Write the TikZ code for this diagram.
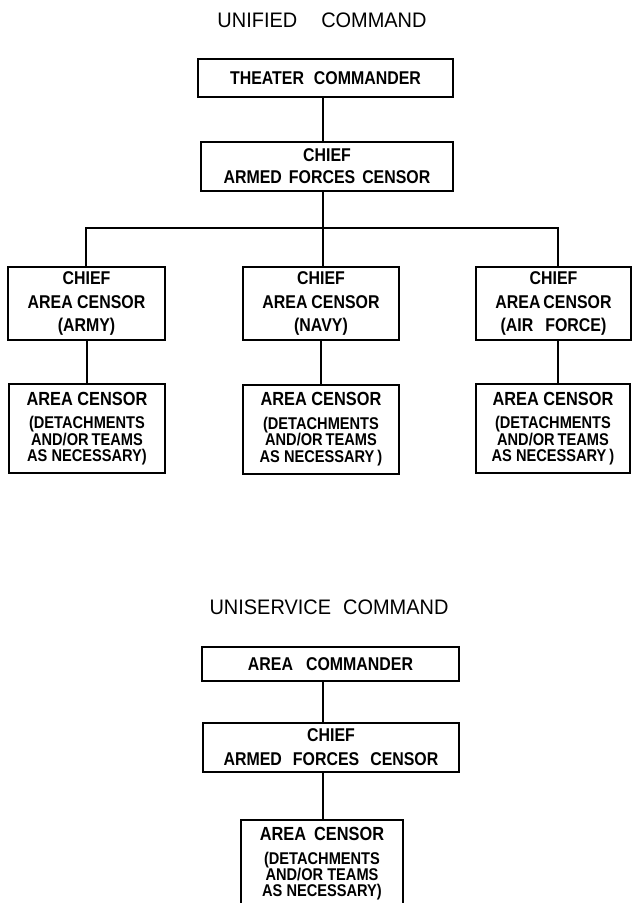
\documentclass[tikz,border=0pt]{standalone}
\usepackage{fontspec}
\setmainfont{Liberation Sans}
\newfontfamily\boxfont{Liberation Sans}[FakeStretch=0.86]
\newfontfamily\titlefont{Liberation Sans}[FakeStretch=0.95]
\tikzset{
  box/.style={draw, line width=2pt, inner sep=0pt, align=center},
  conn/.style={draw, line width=2pt},
  ttl/.style={inner sep=0pt, font=\titlefont\fontsize{21}{24}\selectfont},
  fa/.style={font=\boxfont\bfseries\fontsize{18.5}{22}\selectfont},
  fb/.style={font=\boxfont\bfseries\fontsize{18.5}{23.5}\selectfont},
  fc/.style={font=\boxfont\bfseries\fontsize{17}{16.5}\selectfont},
}
\newcommand\firstln[1]{{\fontsize{19}{19}\selectfont #1}}
\begin{document}
\begin{tikzpicture}[x=1pt,y=-1pt]
\useasboundingbox (0,0) rectangle (632,903);
\clip (0,0) rectangle (632,903);
% ---------- Unified command ----------
\node[ttl] (t1) at (322,20) {UNIFIED\hspace{24pt}COMMAND};
\node[box,fa,minimum width=255pt,minimum height=38pt] (tc) at (325.5,78) {THEATER\hspace{10pt}COMMANDER};
\node[box,fa,minimum width=252pt,minimum height=49pt] (afc) at (327,166.5) {CHIEF\\ARMED\hspace{7pt}FORCES\hspace{7pt}CENSOR};
\node[box,fb,minimum width=157pt,minimum height=73pt] (ca1) at (86.5,303.5) {CHIEF\\AREA CENSOR\\(ARMY)};
\node[box,fb,minimum width=156pt,minimum height=73pt] (ca2) at (321,303.5) {CHIEF\\AREA\hspace{4pt}CENSOR\\(NAVY)};
\node[box,fb,minimum width=155pt,minimum height=73pt] (ca3) at (553.5,303.5) {CHIEF\\AREA\hspace{3pt}CENSOR\\(AIR\hspace{12pt}FORCE)};
\node[box,fc,minimum width=156pt,minimum height=89pt] (ac1) at (87,428.5) {\firstln{AREA CENSOR}\\[7pt](DETACHMENTS\\AND/OR\hspace{3pt}TEAMS\\AS NECESSARY)};
\node[box,fc,minimum width=156pt,minimum height=89pt] (ac2) at (321,429) {\firstln{AREA CENSOR}\\[7pt](DETACHMENTS\\AND/OR\hspace{3pt}TEAMS\\AS NECESSARY\hspace{3pt})};
\node[box,fc,minimum width=154pt,minimum height=89pt] (ac3) at (553,428.5) {\firstln{AREA CENSOR}\\[7pt](DETACHMENTS\\AND/OR\hspace{3pt}TEAMS\\AS NECESSARY\hspace{3pt})};
\coordinate (j) at (323,228);
\coordinate (bl) at (86,228);
\coordinate (br) at (558,228);
\draw[conn] (tc.south -| j) -- (afc.north -| j);
\draw[conn] (afc.south -| j) -- (j);
\draw[conn,line cap=rect] (bl) -- (br);
\draw[conn] (bl) -- (bl |- ca1.north);
\draw[conn] (j) -- (j |- ca2.north);
\draw[conn] (br) -- (br |- ca3.north);
\draw[conn] (ca1.south -| ac1.north) -- (ac1.north);
\draw[conn] (ca2.south) -- (ac2.north);
\draw[conn] (ca3.south -| br) -- (ac3.north -| br);
% ---------- Uniservice command ----------
\node[ttl] (t2) at (329,607) {UNISERVICE\hspace{12pt}COMMAND};
\node[box,fa,minimum width=257pt,minimum height=34pt] (acm) at (330.5,664) {AREA\hspace{13pt}COMMANDER};
\node[box,font=\boxfont\bfseries\fontsize{18.5}{24}\selectfont,minimum width=256pt,minimum height=49pt] (afc2) at (331,747.5) {CHIEF\\ARMED\hspace{11pt}FORCES\hspace{11pt}CENSOR};
\node[box,font=\boxfont\bfseries\fontsize{17}{16}\selectfont,minimum width=162pt,minimum height=88pt] (acb) at (322,864) {\firstln{AREA\hspace{8pt}CENSOR}\\[8pt](DETACHMENTS\\AND/OR TEAMS\\AS NECESSARY)};
\coordinate (k) at (323,700);
\draw[conn] (acm.south -| k) -- (afc2.north -| k);
\draw[conn] (afc2.south -| k) -- (acb.north -| k);
\end{tikzpicture}
\end{document}
